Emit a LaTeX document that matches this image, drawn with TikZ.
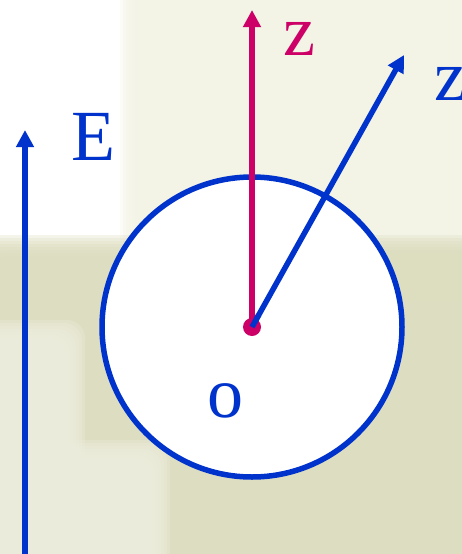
\documentclass[tikz,border=0pt]{standalone}
\usepackage{fontspec}
\setmainfont{Liberation Serif}
\usetikzlibrary{arrows.meta,calc}
\definecolor{myblue}{HTML}{0033CC}
\definecolor{mymag}{HTML}{CC0066}
\definecolor{bgolive}{HTML}{DDDDBF}
\definecolor{bglight}{HTML}{F3F3E6}
\definecolor{bgcream}{HTML}{EEEEDF}
\tikzset{
  vec/.style={line width=5.5pt, -{Triangle[length=17pt,width=17pt]}},
  lbl/.style={inner sep=0pt, font=\fontsize{72}{72}\selectfont},
}
\newcommand\softrect[3]{%
  \foreach \i in {0,...,7} {%
    \fill[#1, opacity=0.3, rounded corners=18pt] ($(#2)+(\i*3,\i*3)$) rectangle ($(#3)-(\i*3,\i*3)$);
  }%
}
\begin{document}
\begin{tikzpicture}[x=1pt,y=-1pt]
\useasboundingbox (0,0) rectangle (462,554);
% background texture
\fill[white] (0,0) rectangle (462,554);
\softrect{bglight}{120,-30}{500,270}
\softrect{bgolive}{-30,235}{500,600}
\softrect{bgolive}{300,250}{500,300}
\softrect{bgcream}{-40,320}{85,600}
\softrect{bgcream}{50,440}{170,600}
% circle
\node[circle, draw=myblue, fill=white, line width=5.5pt, minimum size=300pt, inner sep=0pt] (C) at (252,327) {};
\coordinate (O) at (252,327);
\coordinate (ztip) at (252,10);
\coordinate (zptip) at (404,55);
\coordinate (Ebot) at (25,560);
\coordinate (Etip) at (25,130);
\coordinate (Oin) at ($(O)!14pt!(zptip)$);
% arrows
\draw[vec, myblue] (Ebot) -- (Etip);
\draw[vec, mymag] (O) -- (ztip);
\draw[vec, myblue] (O) -- (zptip);
\node[circle, fill=mymag, minimum size=18pt, inner sep=0pt] (dot) at (O) {};
\draw[myblue, line width=5.5pt] (dot.center) -- (Oin);
% labels
\node[lbl, text=mymag] (lz) at (299,39) {z};
\node[lbl, text=myblue, anchor=west] (lzp) at (434,84) {z};
\node[lbl, text=myblue] (lE) at (93,137) {E};
\node[lbl, text=myblue] (lo) at (225,401) {o};
\end{tikzpicture}
\end{document}
